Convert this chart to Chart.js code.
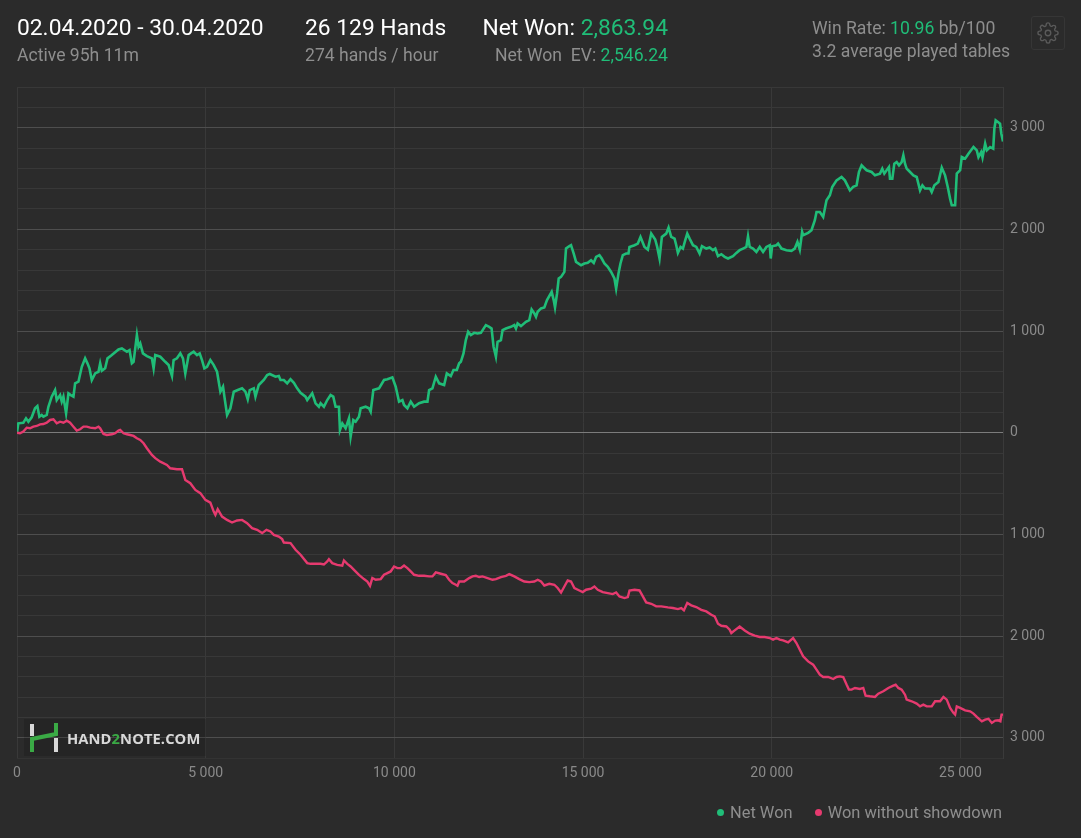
<!DOCTYPE html>
<html>
<head>
<meta charset="utf-8">
<title>Hand2Note graph</title>
<script src="https://cdn.jsdelivr.net/npm/chart.js@4.4.1/dist/chart.umd.min.js"></script>
<style>
    html, body { margin: 0; padding: 0; background: #2b2b2b; overflow: hidden; }
    body { width: 1081px; height: 838px; position: relative; font-family: Roboto, "Noto Sans", sans-serif; }
    #chartBox { position: absolute; left: 0; top: 0; width: 1081px; height: 838px; }
    .hdr { position: absolute; white-space: nowrap; }
    .big { font-size: 22.8px; color: #ffffff; line-height: 26px; }
    .small { font-size: 17.6px; color: #8e8e8e; line-height: 22px; }
    .green { color: #20bd78; }
    #legend { position: absolute; right: 79px; top: 803px; font-size: 16.4px; color: #8e8e8e; white-space: nowrap; }
    #legend span.dot { display: inline-block; width: 7px; height: 7px; border-radius: 50%; margin-right: 6px; vertical-align: 2px; }
    #watermark { position: absolute; left: 24px; top: 719px; width: 182px; height: 37px; background: rgba(0,0,0,0.12); }
    #watermark .txt { position: absolute; left: 43px; top: 9px; font-family: "Open Sans", sans-serif; font-weight: 700; font-size: 14.7px; color: #d8d8d8; letter-spacing: 0.1px; }
    #gear { position: absolute; left: 1031px; top: 16px; width: 32px; height: 32px; border: 1px solid #363636; border-radius: 3px; }
    #gear svg { position: absolute; left: 5px; top: 5px; }
</style>
</head>
<body>
<div id="chartBox"><canvas id="graph"></canvas></div>

<div class="hdr" style="left:17px; top:15px;">
    <div class="big">02.04.2020 - 30.04.2020</div>
    <div class="small" style="margin-top:3px;">Active 95h 11m</div>
</div>
<div class="hdr" style="left:305px; top:15px;">
    <div class="big">26 129 Hands</div>
    <div class="small" style="margin-top:3px;">274 hands / hour</div>
</div>
<div class="hdr" style="right:413px; top:15px; text-align:right;">
    <div class="big">Net Won: <span class="green">2,863.94</span></div>
    <div class="small" style="margin-top:3px;">Net Won&nbsp; EV: <span class="green">2,546.24</span></div>
</div>
<div class="hdr" style="left:812px; top:17px;">
    <div class="small">Win Rate: <span class="green">10.96</span> bb/100</div>
    <div class="small" style="margin-top:1px;">3.2 average played tables</div>
</div>
<div id="gear">
    <svg width="22" height="22" viewBox="0 0 24 24" fill="none" stroke="#5a5a5a" stroke-width="1.5">
        <circle cx="12" cy="12" r="3"/>
        <path d="M19.4 15a1.65 1.65 0 0 0 .33 1.82l.06.06a2 2 0 1 1-2.83 2.830l-.06-.06a1.65 1.65 0 0 0-1.82-.33 1.65 1.65 0 0 0-1 1.51V21a2 2 0 1 1-4 0v-.09A1.65 1.65 0 0 0 9 19.4a1.65 1.65 0 0 0-1.820.33l-.06.06a2 2 0 1 1-2.83-2.830l.06-.06A1.65 1.65 0 0 0 4.68 15a1.65 1.65 0 0 0-1.51-1H3a2 2 0 1 1 0-4h.09A1.65 1.65 0 0 0 4.6 9a1.65 1.65 0 0 0-.33-1.82l-.06-.06a2 2 0 1 1 2.83-2.830l.06.06A1.65 1.65 0 0 0 9 4.68a1.65 1.65 0 0 0 1-1.51V3a2 2 0 1 1 4 0v.09a1.65 1.65 0 0 0 1 1.51 1.65 1.65 0 0 0 1.82-.33l.06-.06a2 2 0 1 1 2.83 2.830l-.06.06A1.65 1.65 0 0 0 19.4 9a1.65 1.65 0 0 0 1.51 1H21a2 2 0 1 1 0 4h-.09a1.65 1.65 0 0 0-1.51 1z"/>
    </svg>
</div>

<div id="watermark">
    <svg width="36" height="37" style="position:absolute; left:2px; top:0;">
        <rect x="4" y="5" width="4" height="12" fill="#d8d8d8"/>
        <rect x="28" y="19" width="4" height="14" fill="#d8d8d8"/>
        <path d="M6 33 V20 L30 15 V4" stroke="#3aaa45" stroke-width="4" fill="none"/>
    </svg>
    <div class="txt">HAND<span style="color:#3aaa45;">2</span>NOTE.COM</div>
</div>

<div id="legend">
    <span class="dot" style="background:#20bd78;"></span>Net Won
    <span class="dot" style="background:#e63a6f; margin-left:18px;"></span>Won without showdown
</div>

<script>
// ===== Data (hands played -> cumulative result) =====
const netWonHands = [
    0, 35, 168, 239, 301, 389, 478, 540, 593, 655, 699, 788, 832, 920, 1009, 1053, 1142, 1186, 1230, 1301,
    1363, 1425, 1496, 1540, 1628, 1717, 1805, 1867, 1920, 1982, 2071, 2159, 2204, 2248, 2336, 2398, 2513, 2690, 2779, 2912,
    2982, 3044, 3089, 3177, 3221, 3266, 3337, 3443, 3575, 3620, 3664, 3797, 3929, 4018, 4107, 4150, 4239, 4328, 4398, 4460,
    4549, 4611, 4682, 4770, 4841, 4903, 4965, 5036, 5124, 5213, 5301, 5390, 5460, 5496, 5567, 5655, 5744, 5850, 5965, 6053,
    6115, 6168, 6275, 6319, 6407, 6540, 6629, 6699, 6850, 6938, 6983, 7071, 7160, 7248, 7337, 7425, 7514, 7646, 7691, 7823,
    7912, 8000, 8045, 8133, 8222, 8310, 8381, 8443, 8531, 8558, 8620, 8708, 8797, 8841, 8912, 8974, 9062, 9107, 9239, 9328,
    9372, 9443, 9593, 9726, 9815, 9947, 10036, 10124, 10213, 10257, 10346, 10434, 10523, 10655, 10788, 10877, 10921, 11009, 11098, 11186,
    11319, 11390, 11496, 11567, 11655, 11717, 11762, 11832, 11894, 11956, 12027, 12116, 12204, 12293, 12425, 12514, 12576, 12629, 12691, 12735,
    12824, 12868, 12956, 13089, 13178, 13222, 13266, 13355, 13487, 13576, 13638, 13709, 13753, 13797, 13886, 13974, 14045, 14169, 14222, 14257,
    14311, 14355, 14417, 14505, 14549, 14638, 14682, 14753, 14815, 14948, 15036, 15125, 15213, 15284, 15346, 15434, 15496, 15567, 15655, 15744,
    15832, 15877, 15939, 15992, 16054, 16142, 16204, 16231, 16364, 16452, 16523, 16629, 16718, 16807, 16912, 16965, 17027, 17089, 17204, 17266,
    17337, 17426, 17470, 17514, 17585, 17647, 17709, 17762, 17824, 17913, 18001, 18089, 18151, 18266, 18355, 18443, 18505, 18576, 18665, 18753,
    18842, 18974, 19063, 19151, 19240, 19328, 19372, 19417, 19505, 19594, 19682, 19771, 19859, 19948, 19974, 20010, 20125, 20169, 20258, 20390,
    20523, 20611, 20682, 20744, 20806, 20833, 20965, 21054, 21143, 21187, 21275, 21364, 21452, 21541, 21603, 21718, 21851, 21939, 22072, 22160,
    22249, 22311, 22382, 22426, 22515, 22647, 22736, 22869, 22930, 22984, 23045, 23107, 23134, 23196, 23249, 23311, 23373, 23444, 23488, 23532,
    23576, 23621, 23754, 23842, 23931, 23993, 24063, 24196, 24240, 24311, 24417, 24506, 24594, 24665, 24727, 24771, 24860, 24904, 24993, 25037,
    25125, 25214, 25347, 25435, 25479, 25550, 25586, 25656, 25700, 25789, 25870, 25900, 25935, 25995, 26050, 26085, 26129
];
const netWonValues = [
    0, 92, 98, 141, 108, 151, 240, 262, 157, 174, 157, 174, 255, 354, 419, 321, 370, 305, 354, 191,
    387, 370, 354, 485, 501, 648, 731, 682, 633, 518, 583, 599, 682, 609, 633, 731, 763, 819, 829, 796,
    812, 682, 697, 960, 845, 878, 780, 753, 731, 633, 763, 747, 697, 665, 557, 714, 731, 780, 731, 583,
    763, 780, 796, 763, 780, 714, 633, 648, 714, 665, 599, 403, 452, 354, 174, 240, 403, 419, 436, 403,
    328, 419, 436, 354, 469, 518, 567, 577, 550, 557, 518, 518, 485, 525, 491, 436, 393, 354, 321, 387,
    289, 255, 289, 255, 321, 370, 354, 255, 255, 27, 92, 43, 141, -39, 125, 108, 157, 240, 255, 240,
    206, 419, 436, 518, 525, 544, 452, 305, 321, 272, 240, 305, 255, 289, 305, 305, 419, 436, 550, 485,
    469, 583, 557, 616, 616, 682, 697, 780, 911, 992, 960, 982, 976, 982, 1058, 1041, 1025, 845, 747, 894,
    911, 1009, 1025, 1041, 1058, 1025, 1075, 1048, 1090, 1107, 1212, 1173, 1140, 1189, 1222, 1232, 1304, 1385, 1304, 1232,
    1369, 1517, 1532, 1581, 1811, 1834, 1844, 1762, 1680, 1647, 1664, 1670, 1696, 1670, 1729, 1746, 1713, 1664, 1631, 1581,
    1517, 1418, 1566, 1664, 1746, 1762, 1762, 1827, 1844, 1860, 1925, 1827, 1801, 1958, 1900, 1827, 1713, 1925, 1958, 2017,
    1925, 1909, 1844, 1768, 1827, 1811, 1893, 1958, 1909, 1844, 1827, 1762, 1834, 1811, 1821, 1795, 1811, 1736, 1755, 1729,
    1713, 1736, 1768, 1795, 1811, 1827, 1932, 1827, 1811, 1778, 1827, 1778, 1827, 1844, 1713, 1834, 1844, 1860, 1811, 1795,
    1788, 1811, 1876, 1801, 1974, 1942, 1965, 1991, 2089, 2171, 2171, 2122, 2286, 2335, 2417, 2482, 2515, 2482, 2384, 2417,
    2433, 2564, 2630, 2613, 2581, 2564, 2531, 2548, 2597, 2548, 2581, 2613, 2499, 2499, 2646, 2662, 2630, 2662, 2728, 2646,
    2597, 2581, 2531, 2515, 2384, 2433, 2401, 2401, 2367, 2433, 2466, 2607, 2531, 2417, 2302, 2237, 2237, 2548, 2581, 2711,
    2695, 2744, 2809, 2777, 2711, 2760, 2705, 2843, 2777, 2809, 2794, 2990, 3072, 3055, 3039, 2941, 2864
];

const wwsdHands = [
    0, 80, 168, 257, 345, 434, 522, 611, 699, 788, 876, 965, 1053, 1142, 1230, 1319, 1407, 1496, 1584, 1673,
    1761, 1850, 1938, 2071, 2159, 2204, 2292, 2381, 2513, 2602, 2690, 2735, 2823, 2912, 3000, 3089, 3177, 3266, 3354, 3443,
    3575, 3664, 3797, 3974, 4062, 4239, 4372, 4460, 4593, 4726, 4859, 4991, 5124, 5213, 5257, 5319, 5434, 5567, 5699, 5832,
    5965, 6098, 6230, 6363, 6496, 6611, 6717, 6806, 6938, 7027, 7071, 7248, 7381, 7514, 7691, 7779, 7912, 8045, 8133, 8222,
    8266, 8354, 8487, 8620, 8664, 8753, 8841, 8930, 9062, 9195, 9284, 9355, 9416, 9505, 9638, 9726, 9815, 9903, 9992, 10080,
    10169, 10257, 10346, 10434, 10523, 10655, 10788, 10921, 11009, 11098, 11231, 11363, 11452, 11540, 11629, 11673, 11717, 11850, 11983, 12071,
    12160, 12248, 12337, 12470, 12602, 12691, 12824, 12956, 13045, 13178, 13310, 13443, 13576, 13709, 13797, 13886, 13974, 14107, 14240, 14328,
    14417, 14505, 14594, 14682, 14771, 14903, 14992, 15080, 15213, 15302, 15390, 15523, 15655, 15788, 15877, 15965, 16098, 16187, 16231, 16364,
    16496, 16585, 16673, 16807, 16939, 17072, 17249, 17381, 17514, 17603, 17673, 17762, 17868, 18001, 18134, 18266, 18399, 18488, 18576, 18665,
    18797, 18886, 18930, 19019, 19151, 19284, 19417, 19549, 19682, 19815, 19948, 20036, 20125, 20213, 20302, 20434, 20567, 20655, 20744, 20833,
    20965, 21098, 21187, 21275, 21364, 21496, 21629, 21718, 21806, 21895, 21983, 22045, 22116, 22205, 22337, 22426, 22488, 22603, 22736, 22824,
    22957, 23090, 23222, 23284, 23355, 23444, 23532, 23576, 23709, 23842, 23931, 24019, 24107, 24240, 24329, 24461, 24550, 24638, 24727, 24815,
    24860, 24904, 24993, 25125, 25258, 25347, 25435, 25568, 25656, 25745, 25833, 25922, 26000, 26060, 26090, 26129
];
const wwsdValues = [
    0, -6, 10, 49, 43, 59, 66, 82, 85, 98, 125, 131, 92, 108, 98, 118, 98, 59, 20, 33,
    59, 59, 49, 43, 59, 43, -13, -23, -16, -6, 20, 27, -6, -16, -23, -32, -55, -72, -104, -153,
    -219, -251, -285, -317, -350, -360, -360, -465, -497, -563, -595, -661, -688, -776, -808, -753, -825, -858, -884, -864,
    -858, -890, -939, -956, -988, -956, -972, -1005, -1022, -1047, -1081, -1086, -1152, -1201, -1283, -1290, -1290, -1290, -1297, -1267,
    -1244, -1283, -1300, -1309, -1257, -1290, -1316, -1349, -1398, -1440, -1464, -1506, -1430, -1447, -1440, -1398, -1381, -1365, -1316, -1332,
    -1332, -1306, -1332, -1365, -1398, -1408, -1408, -1414, -1414, -1375, -1388, -1401, -1447, -1479, -1496, -1506, -1464, -1464, -1430, -1414,
    -1408, -1420, -1414, -1430, -1447, -1440, -1420, -1408, -1391, -1414, -1440, -1464, -1470, -1464, -1447, -1464, -1503, -1486, -1496, -1528,
    -1572, -1513, -1454, -1464, -1528, -1552, -1568, -1545, -1535, -1513, -1545, -1568, -1578, -1588, -1572, -1611, -1627, -1617, -1552, -1545,
    -1552, -1611, -1670, -1683, -1709, -1709, -1719, -1725, -1735, -1725, -1748, -1676, -1699, -1715, -1742, -1758, -1791, -1807, -1879, -1899,
    -1906, -1938, -1971, -1945, -1906, -1945, -1977, -1997, -2010, -2010, -2020, -2036, -2020, -2036, -2043, -2063, -2020, -2069, -2135, -2200,
    -2250, -2282, -2331, -2380, -2403, -2403, -2423, -2403, -2397, -2403, -2478, -2527, -2527, -2511, -2521, -2511, -2586, -2593, -2599, -2567,
    -2544, -2511, -2488, -2478, -2511, -2527, -2577, -2626, -2642, -2665, -2692, -2675, -2692, -2692, -2642, -2642, -2599, -2626, -2707, -2756,
    -2773, -2692, -2707, -2731, -2741, -2763, -2796, -2839, -2822, -2815, -2855, -2832, -2829, -2839, -2773, -2773
];

// ===== Axis ticks =====
const totalHands = 26129;
const xTicks = [0, 5000, 10000, 15000, 20000, 25000];
const yMin = -3200;
const yMax = 3400;
const yStep = 200;

// ===== Colors =====
const colors = {
    netWon: '#20bd78',
    wwsd: '#e63a6f',
    tick: '#8a8a8a',
    gridMinor: '#383838',
    gridMajor: '#4e4e4e',
    zero: '#7c7c7c',
    vGrid: '#393939'
};

// thousands with a space, no minus sign (as the app shows it)
function fmt(v) {
    return String(Math.abs(v)).replace(/\B(?=(\d{3})+(?!\d))/g, ' ');
}

function toPoints(xs, ys) {
    return xs.map((x, i) => ({ x: x, y: ys[i] }));
}

document.addEventListener('DOMContentLoaded', () => {
    const ctx = document.getElementById('graph');

    new Chart(ctx, {
        type: 'line',
        data: {
            datasets: [
                {
                    label: 'Won without showdown',
                    data: toPoints(wwsdHands, wwsdValues),
                    borderColor: colors.wwsd,
                    borderWidth: 2.4,
                    pointRadius: 0,
                    tension: 0,
                    fill: false
                },
                {
                    label: 'Net Won',
                    data: toPoints(netWonHands, netWonValues),
                    borderColor: colors.netWon,
                    borderWidth: 2.6,
                    pointRadius: 0,
                    tension: 0,
                    fill: false
                }
            ]
        },
        options: {
            responsive: true,
            maintainAspectRatio: false,
            animation: false,
            layout: { padding: { left: 17, top: 87, right: 0, bottom: 0 } },
            plugins: {
                legend: { display: false },
                tooltip: { enabled: false }
            },
            scales: {
                x: {
                    type: 'linear',
                    min: 0,
                    max: totalHands,
                    border: { display: true, color: '#333333' },
                    grid: { color: colors.vGrid, drawTicks: false },
                    afterBuildTicks: s => { s.ticks = xTicks.map(v => ({ value: v })); },
                    ticks: {
                        autoSkip: false,
                        maxRotation: 0,
                        padding: 7,
                        color: colors.tick,
                        font: { family: 'Roboto', size: 14 },
                        callback: v => fmt(v)
                    },
                    afterFit: s => { s.height = 80; }
                },
                y: {
                    type: 'linear',
                    position: 'right',
                    min: yMin,
                    max: yMax,
                    border: { display: true, color: '#3a3a3a' },
                    grid: {
                        drawTicks: false,
                        color: c => {
                            const v = c.tick.value;
                            if (v === 0) return colors.zero;
                            return v % 1000 === 0 ? colors.gridMajor : colors.gridMinor;
                        }
                    },
                    ticks: {
                        stepSize: yStep,
                        autoSkip: false,
                        padding: 7,
                        color: colors.tick,
                        font: { family: 'Roboto', size: 14 },
                        callback: v => (v % 1000 === 0 && v > yMin && v < yMax) ? fmt(v) : ''
                    },
                    afterFit: s => { s.width = 78; }
                }
            }
        }
    });
});
</script>
</body>
</html>
